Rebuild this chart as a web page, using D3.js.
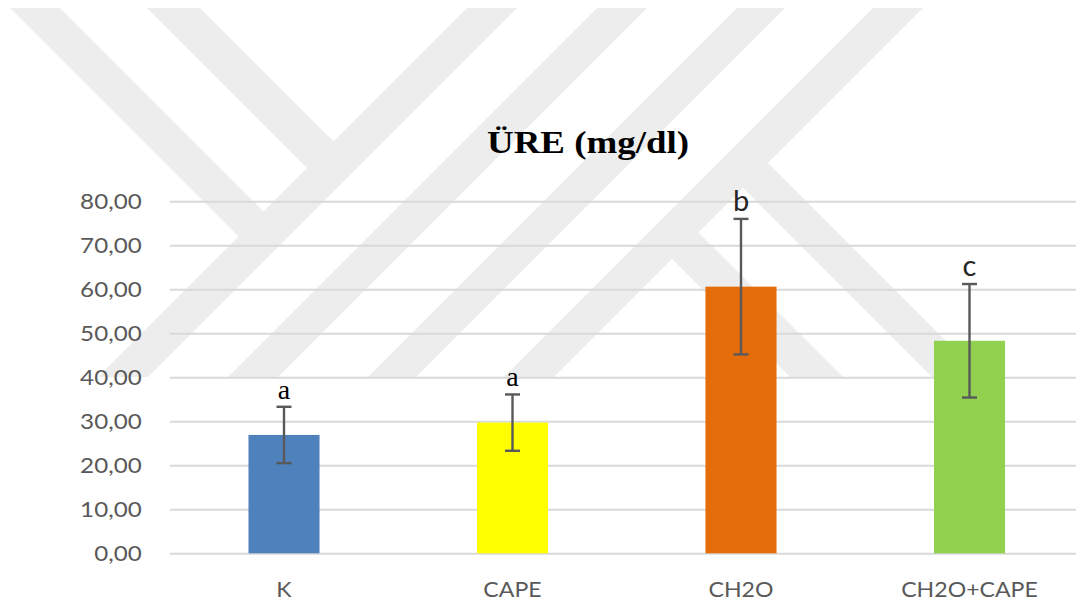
<!DOCTYPE html>
<html>
<head>
<meta charset="utf-8">
<script src="https://cdn.jsdelivr.net/npm/d3@7"></script>
<style>
  html, body { margin: 0; padding: 0; background: #ffffff; }
  svg { display: block; }
</style>
</head>
<body>
<script>
// Serum urea by group: mean ± SD with significance letters
const categories = ["K", "CAPE", "CH2O", "CH2O+CAPE"];
const means = [26.9, 29.7, 60.6, 48.3];
const sds = [6.4, 6.4, 15.4, 12.9];
const letters = ["a", "a", "b", "c"];
const barColors = ["#4f81bd", "#ffff00", "#e46c0a", "#92d050"];
const yTicks = [0, 10, 20, 30, 40, 50, 60, 70, 80];
const titleText = "ÜRE (mg/dl)";

const W = 1076, H = 605;
const plot = { left: 169.75, right: 1083.75, top: 201.3, bottom: 553.3 };

const svg = d3.select("body").append("svg")
  .attr("width", W).attr("height", H);

// Background logo: light diagonal stripes (45°), built from band limits
// "/" bands: u = x + y in [u1,u2]; "\" bands: v = x - y in [v1,v2]
const wmTop = 8, wmBottom = 377;
const slashBands = [[475, 525], [605, 655], [745, 793], [881, 931]];
const leftArms = [[2, 52], [139, 192]];      // end on the first "/" band's left edge
const kArms = [[413, 466], [555, 605]];       // start on the last "/" band's right edge
const wm = svg.append("g").attr("fill", "#ededed");
slashBands.forEach(([u1, u2]) => {
  wm.append("polygon").attr("points", [
    [u1 - wmTop, wmTop], [u2 - wmTop, wmTop], [u2 - wmBottom, wmBottom], [u1 - wmBottom, wmBottom]
  ].map(p => p.join(",")).join(" "));
});
const uA = slashBands[0][0] + 2;
leftArms.forEach(([v1, v2]) => {
  wm.append("polygon").attr("points", [
    [v1 + wmTop, wmTop], [v2 + wmTop, wmTop],
    [(uA + v2) / 2, (uA - v2) / 2], [(uA + v1) / 2, (uA - v1) / 2]
  ].map(p => p.join(",")).join(" "));
});
const uD = slashBands[3][1] - 2;
kArms.forEach(([v1, v2]) => {
  wm.append("polygon").attr("points", [
    [(uD + v2) / 2, (uD - v2) / 2], [v2 + wmBottom, wmBottom],
    [v1 + wmBottom, wmBottom], [(uD + v1) / 2, (uD - v1) / 2]
  ].map(p => p.join(",")).join(" "));
});

// Scales
const x = d3.scaleBand()
  .domain(categories)
  .range([plot.left, plot.right])
  .paddingInner(0.689)
  .paddingOuter(0.3445);
const y = d3.scaleLinear().domain([0, 80]).range([plot.bottom, plot.top]);

const locale = d3.formatLocale({ decimal: ",", thousands: ".", grouping: [3], currency: ["", " TL"] });
const fmt = locale.format(".2f");

// Gridlines
const grid = svg.append("g")
  .attr("transform", `translate(${plot.left},0)`)
  .call(d3.axisLeft(y).tickValues(yTicks).tickSize(-(plot.right - plot.left)).tickFormat(""));
grid.select(".domain").remove();
grid.selectAll("line").attr("stroke", "#d9d9d9").attr("stroke-width", 2);

// Y axis labels
const yAxis = svg.append("g")
  .attr("transform", `translate(${plot.left},0)`)
  .call(d3.axisLeft(y).tickValues(yTicks).tickFormat(fmt).tickSize(0).tickPadding(28));
yAxis.select(".domain").remove();
yAxis.selectAll("text")
  .attr("fill", "#595959")
  .style("font-family", "Lato, 'Open Sans', sans-serif")
  .style("font-size", "22px");

// X axis labels
const xAxis = svg.append("g")
  .attr("transform", `translate(0,${plot.bottom})`)
  .call(d3.axisBottom(x).tickSize(0).tickPadding(28));
xAxis.select(".domain").remove();
xAxis.selectAll("text")
  .attr("fill", "#595959")
  .style("font-family", "Lato, 'Open Sans', sans-serif")
  .style("font-size", "22px");

// Widen text slightly to the chart's letter proportions
function widen(sel, k) {
  sel.each(function () {
    const w = this.getComputedTextLength();
    d3.select(this).attr("textLength", w * k).attr("lengthAdjust", "spacingAndGlyphs");
  });
}
widen(yAxis.selectAll("text"), 1.1);
widen(xAxis.selectAll("text"), 1.05);

// Bars
const rows = categories.map((c, i) => ({ c, m: means[i], s: sds[i], l: letters[i], col: barColors[i] }));
svg.append("g").selectAll("rect")
  .data(rows).join("rect")
  .attr("x", d => x(d.c))
  .attr("width", x.bandwidth())
  .attr("y", d => y(d.m))
  .attr("height", d => y(0) - y(d.m))
  .attr("fill", d => d.col);

// Error bars
const eb = svg.append("g").attr("stroke", "#595959").attr("stroke-width", 2.4).attr("fill", "none");
rows.forEach(d => {
  const cx = x(d.c) + x.bandwidth() / 2;
  const yHi = y(d.m + d.s), yLo = y(d.m - d.s);
  eb.append("line").attr("x1", cx).attr("x2", cx).attr("y1", yHi).attr("y2", yLo);
  eb.append("line").attr("x1", cx - 7.5).attr("x2", cx + 7.5).attr("y1", yHi).attr("y2", yHi);
  eb.append("line").attr("x1", cx - 7.5).attr("x2", cx + 7.5).attr("y1", yLo).attr("y2", yLo);
});

// Significance letters above the error bars
svg.append("g").selectAll("text")
  .data(rows).join("text")
  .attr("x", d => x(d.c) + x.bandwidth() / 2)
  .attr("y", d => y(d.m + d.s) - 8)
  .attr("text-anchor", "middle")
  .attr("fill", d => d.l === "a" ? "#000000" : "#262626")
  .style("font-family", d => d.l === "a" ? "'Liberation Serif', 'Times New Roman', serif" : "Lato, 'Open Sans', sans-serif")
  .style("font-size", d => d.l === "a" ? "28px" : "29px")
  .text(d => d.l);

// Title
svg.append("text")
  .attr("x", 588)
  .attr("y", 153)
  .attr("text-anchor", "middle")
  .attr("fill", "#000000")
  .attr("textLength", 202)
  .attr("lengthAdjust", "spacingAndGlyphs")
  .style("font-family", "'Liberation Serif', 'Times New Roman', serif")
  .style("font-weight", "bold")
  .style("font-size", "31px")
  .text(titleText);
</script>
</body>
</html>
